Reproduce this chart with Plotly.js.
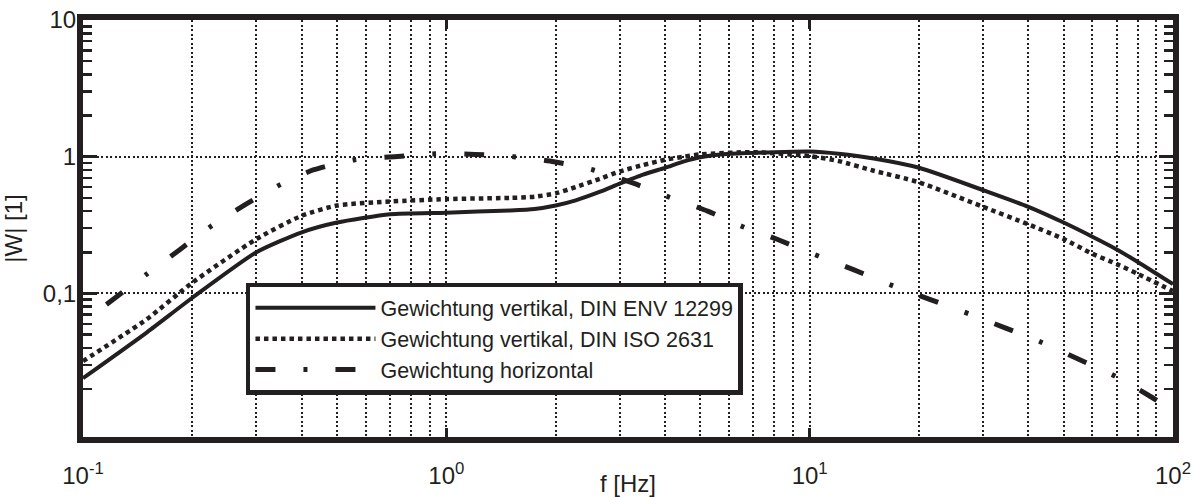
<!DOCTYPE html>
<html><head><meta charset="utf-8">
<script src="https://cdn.plot.ly/plotly-3.0.1.min.js"></script>
<style>html,body{margin:0;padding:0;background:#fff}#chart{width:1195px;height:497px}</style>
</head><body><div id="chart"></div>
<script>
// ---- data ----
const seriesNames = [
  "Gewichtung vertikal, DIN ENV 12299",
  "Gewichtung vertikal, DIN ISO 2631",
  "Gewichtung horizontal"
];
const freqEnv = [0.1, 0.15, 0.2, 0.3, 0.4, 0.5, 0.7, 1, 1.5, 1.75, 2, 2.27, 2.65, 3, 3.48, 4, 4.49, 5, 6, 8, 10, 12, 15, 20, 30, 40, 50, 60, 70, 80, 100];
const wEnv    = [0.024, 0.052, 0.093, 0.2, 0.28, 0.33, 0.38, 0.39, 0.405, 0.415, 0.44, 0.48, 0.555, 0.635, 0.74, 0.83, 0.92, 0.99, 1.05, 1.08, 1.09, 1.05, 0.97, 0.83, 0.57, 0.43, 0.33, 0.26, 0.21, 0.17, 0.117];

const freqIso = [0.1, 0.15, 0.2, 0.3, 0.4, 0.5, 0.7, 1, 1.5, 1.75, 2, 2.27, 2.65, 3, 3.48, 4, 4.49, 5, 7, 10, 12, 15, 20, 30, 40, 50, 60, 70, 80, 100];
const wIso    = [0.032, 0.065, 0.12, 0.25, 0.37, 0.44, 0.47, 0.49, 0.50, 0.51, 0.54, 0.60, 0.69, 0.78, 0.87, 0.95, 1.0, 1.04, 1.08, 1.01, 0.93, 0.79, 0.65, 0.43, 0.32, 0.25, 0.195, 0.164, 0.139, 0.104];

const freqHor = [0.116, 0.15, 0.185, 0.225, 0.281, 0.347, 0.43, 0.56, 0.72, 0.93, 1.2, 1.53, 1.98, 2.54, 3.27, 4.07, 5.24, 6.5, 8.1, 10.6, 13.3, 16.9, 21.3, 27.4, 34.5, 43.4, 55, 69, 85.6, 100];
const wHor    = [0.083, 0.139, 0.21, 0.31, 0.45, 0.62, 0.80, 0.95, 1.0, 1.05, 1.04, 1.0, 0.92, 0.80, 0.64, 0.51, 0.40, 0.31, 0.25, 0.187, 0.148, 0.114, 0.091, 0.071, 0.056, 0.044, 0.033, 0.025, 0.018, 0.014];

const xTickVals = [0.1, 1, 10, 100];
const xTickText = ["10<sup>-1</sup>", "10<sup>0</sup>", "10<sup>1</sup>", "10<sup>2</sup>"];
const yTickVals = [0.1, 1, 10];
const yTickText = ["0,1", "1", "10"];

// minor tick values (2..9 in each decade)
function minorVals(lo, hi) {
  const out = [];
  for (let e = lo; e < hi; e++) for (let k = 2; k <= 9; k++) out.push(k * Math.pow(10, e));
  return out;
}

const ink = '#231f20';
const font = "'Liberation Sans', Arial, sans-serif";

const traces = [
  {x: freqEnv, y: wEnv, name: seriesNames[0], mode: 'lines',
   line: {color: ink, width: 4, dash: 'solid', shape: 'spline', smoothing: 0.6}},
  {x: freqIso, y: wIso, name: seriesNames[1], mode: 'lines',
   line: {color: ink, width: 4.5, dash: '4.5px,4px', shape: 'spline', smoothing: 0.6}},
  {x: freqHor, y: wHor, name: seriesNames[2], mode: 'lines',
   line: {color: ink, width: 5, dash: '20px,28px,4px,28px', shape: 'spline', smoothing: 0.6}}
];

const gridStyle = {griddash: '2px,2.5px', gridcolor: ink, gridwidth: 2};

const layout = {
  width: 1195, height: 497,
  margin: {l: 83, r: 22, t: 20, b: 60},
  paper_bgcolor: '#fff', plot_bgcolor: '#fff',
  font: {family: font, color: ink, size: 22},
  showlegend: true,
  legend: {
    x: 0.1495, y: 0.37, xanchor: 'left', yanchor: 'top',
    bgcolor: '#fff', bordercolor: ink, borderwidth: 4.5,
    font: {family: font, size: 21.5, color: ink},
    itemwidth: 120
  },
  xaxis: Object.assign({
    type: 'log', range: [-1, 2],
    tickmode: 'array', tickvals: xTickVals, ticktext: xTickText,
    ticks: 'inside', ticklen: 9, tickwidth: 2.5, tickcolor: ink,
    showline: true, linewidth: 6, linecolor: ink, mirror: 'allticks',
    showgrid: true,
    minor: Object.assign({tickmode: 'array', tickvals: minorVals(-1, 2), showgrid: true, ticks: ''}, gridStyle),
    tickfont: {size: 24, color: ink},
    ticklabelstandoff: 12,
    title: {text: 'f [Hz]', font: {size: 24, color: ink}, standoff: 0},
    zeroline: false, automargin: false
  }, gridStyle),
  yaxis: Object.assign({
    type: 'log', range: [-2.05, 1],
    tickmode: 'array', tickvals: yTickVals, ticktext: yTickText,
    ticks: 'inside', ticklen: 14, tickwidth: 2.5, tickcolor: ink,
    showline: true, linewidth: 6, linecolor: ink, mirror: 'allticks',
    showgrid: true,
    minor: {tickmode: 'array', tickvals: minorVals(-3, 1), ticks: 'inside', ticklen: 9, tickwidth: 2.5, tickcolor: ink, showgrid: false},
    tickfont: {size: 24, color: ink},
    ticklabelstandoff: -4,
    title: {text: '|W| [1]', font: {size: 24, color: ink}},
    zeroline: false, automargin: false
  }, gridStyle)
};

Plotly.newPlot('chart', traces, layout, {displayModeBar: false, staticPlot: true});
</script>
</body></html>
